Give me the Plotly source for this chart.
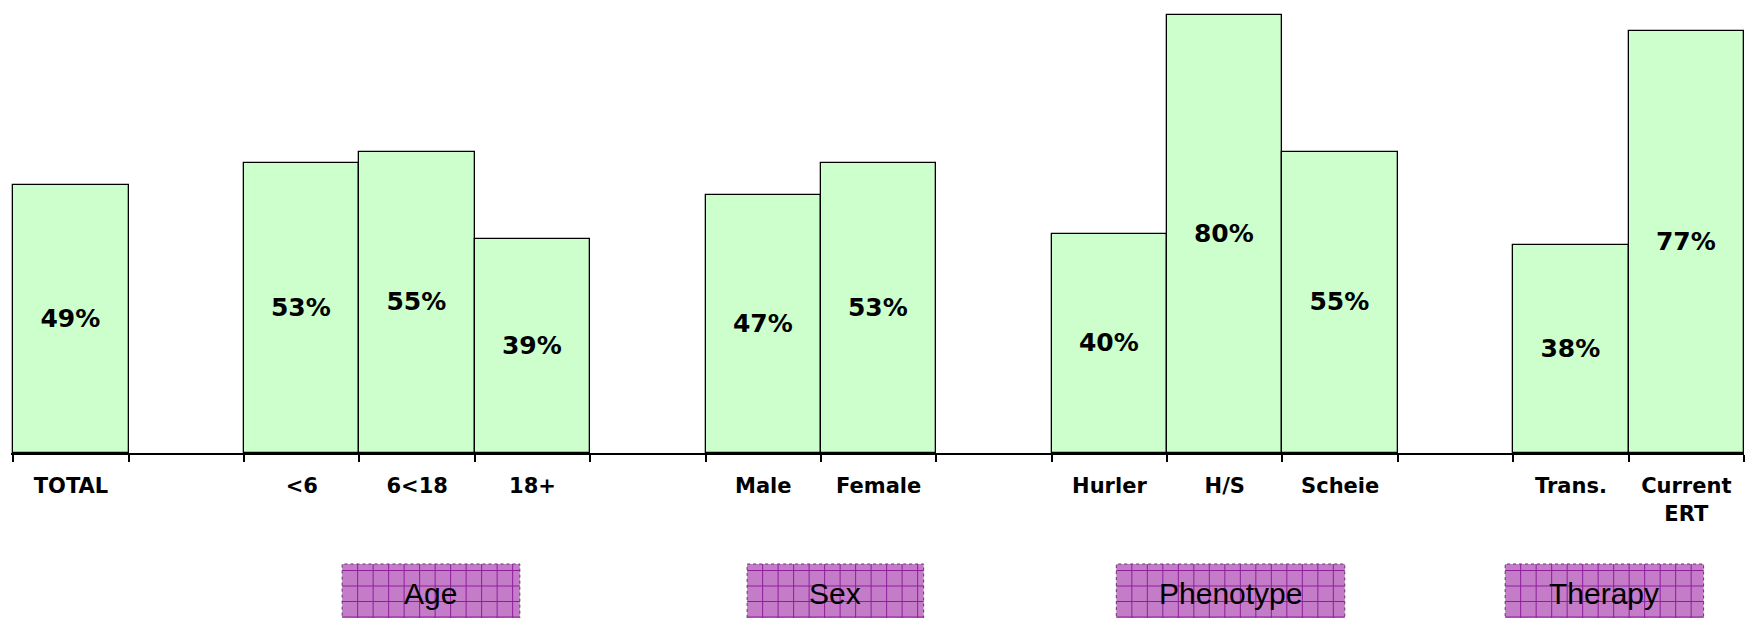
import plotly.graph_objects as go

# ---- data ----
categories = ["TOTAL", " ", "<6", "6<18", "18+", "  ", "Male", "Female", "   ",
              "Hurler", "H/S", "Scheie", "    ", "Trans.", "Current<br>ERT"]
values = [49, None, 53, 55, 39, None, 47, 53, None, 40, 80, 55, None, 38, 77]
value_labels = [f"{v}%" if v is not None else "" for v in values]

group_names = ["Age", "Sex", "Phenotype", "Therapy"]
group_start = [2.35, 5.86, 9.06, 12.43]   # in category units
group_end = [3.89, 7.39, 11.04, 14.15]

W, H = 1745, 618
ML, MR, MT, MB = 11, 1, 13, 165
PW = W - ML - MR
PH = H - MT - MB
N = len(categories)
XR = [-0.52, N - 0.5]

fig = go.Figure()
fig.add_trace(go.Bar(
    x=categories, y=values, text=value_labels,
    textposition="inside", insidetextanchor="middle", textangle=0,
    constraintext="none", cliponaxis=False,
    textfont=dict(family="DejaVu Sans", size=25, color="black", weight="bold"),
    marker=dict(color="#CCFFCC", line=dict(color="black", width=1.3)),
    hoverinfo="skip",
))

def px_x(cat):
    return (cat - XR[0]) / (XR[1] - XR[0])

shapes = []
annotations = []
cell = 15.5
box_top_px = 564
box_bot_px = 640
for name, s, e in zip(group_names, group_start, group_end):
    x0 = px_x(s)
    x1 = px_x(e)
    y0 = (MT + PH - box_bot_px) / PH
    y1 = (MT + PH - box_top_px) / PH
    shapes.append(dict(type="rect", xref="paper", yref="paper", x0=x0, x1=x1, y0=y0, y1=y1,
                       fillcolor="#C47CC8", line=dict(color="#5A3A5A", width=1, dash="dot"),
                       layer="above"))
    segs = []
    xl = ML + x0 * PW
    xr = ML + x1 * PW
    gx = xl + cell
    while gx < xr - 1:
        xp = (gx - ML) / PW
        segs.append(f"M{xp},{y0} L{xp},{y1}")
        gx += cell
    gy = box_top_px + 6.5
    while gy < box_bot_px:
        yp = (MT + PH - gy) / PH
        segs.append(f"M{x0},{yp} L{x1},{yp}")
        gy += cell
    shapes.append(dict(type="path", xref="paper", yref="paper", path=" ".join(segs),
                       line=dict(color="#8E1E9C", width=1), layer="above"))
    annotations.append(dict(xref="paper", yref="paper", x=(x0 + x1) / 2,
                            y=(MT + PH - 593) / PH, text=name, showarrow=False,
                            xanchor="center", yanchor="middle",
                            font=dict(family="Liberation Sans", size=30, color="black")))

fig.update_layout(
    width=W, height=H,
    margin=dict(l=ML, r=MR, t=MT, b=MB, pad=0, autoexpand=False),
    paper_bgcolor="white", plot_bgcolor="white",
    bargap=0, showlegend=False, hovermode=False,
    shapes=shapes, annotations=annotations,
    xaxis=dict(type="category", categoryorder="array", categoryarray=categories,
               range=XR,
               showline=True, linecolor="black", linewidth=2,
               ticks="outside", tickson="boundaries", ticklen=7, tickwidth=1.5,
               tickcolor="black", showgrid=False, zeroline=False, automargin=False,
               ticklabelstandoff=13,
               tickfont=dict(family="DejaVu Sans", size=21, color="black", weight="bold")),
    yaxis=dict(range=[0, 80.3], visible=False, showgrid=False, zeroline=False,
               automargin=False),
)

fig.write_html("out.html", config={"displayModeBar": False},
               post_script="document.body.style.margin='0';document.body.style.overflow='hidden';")
